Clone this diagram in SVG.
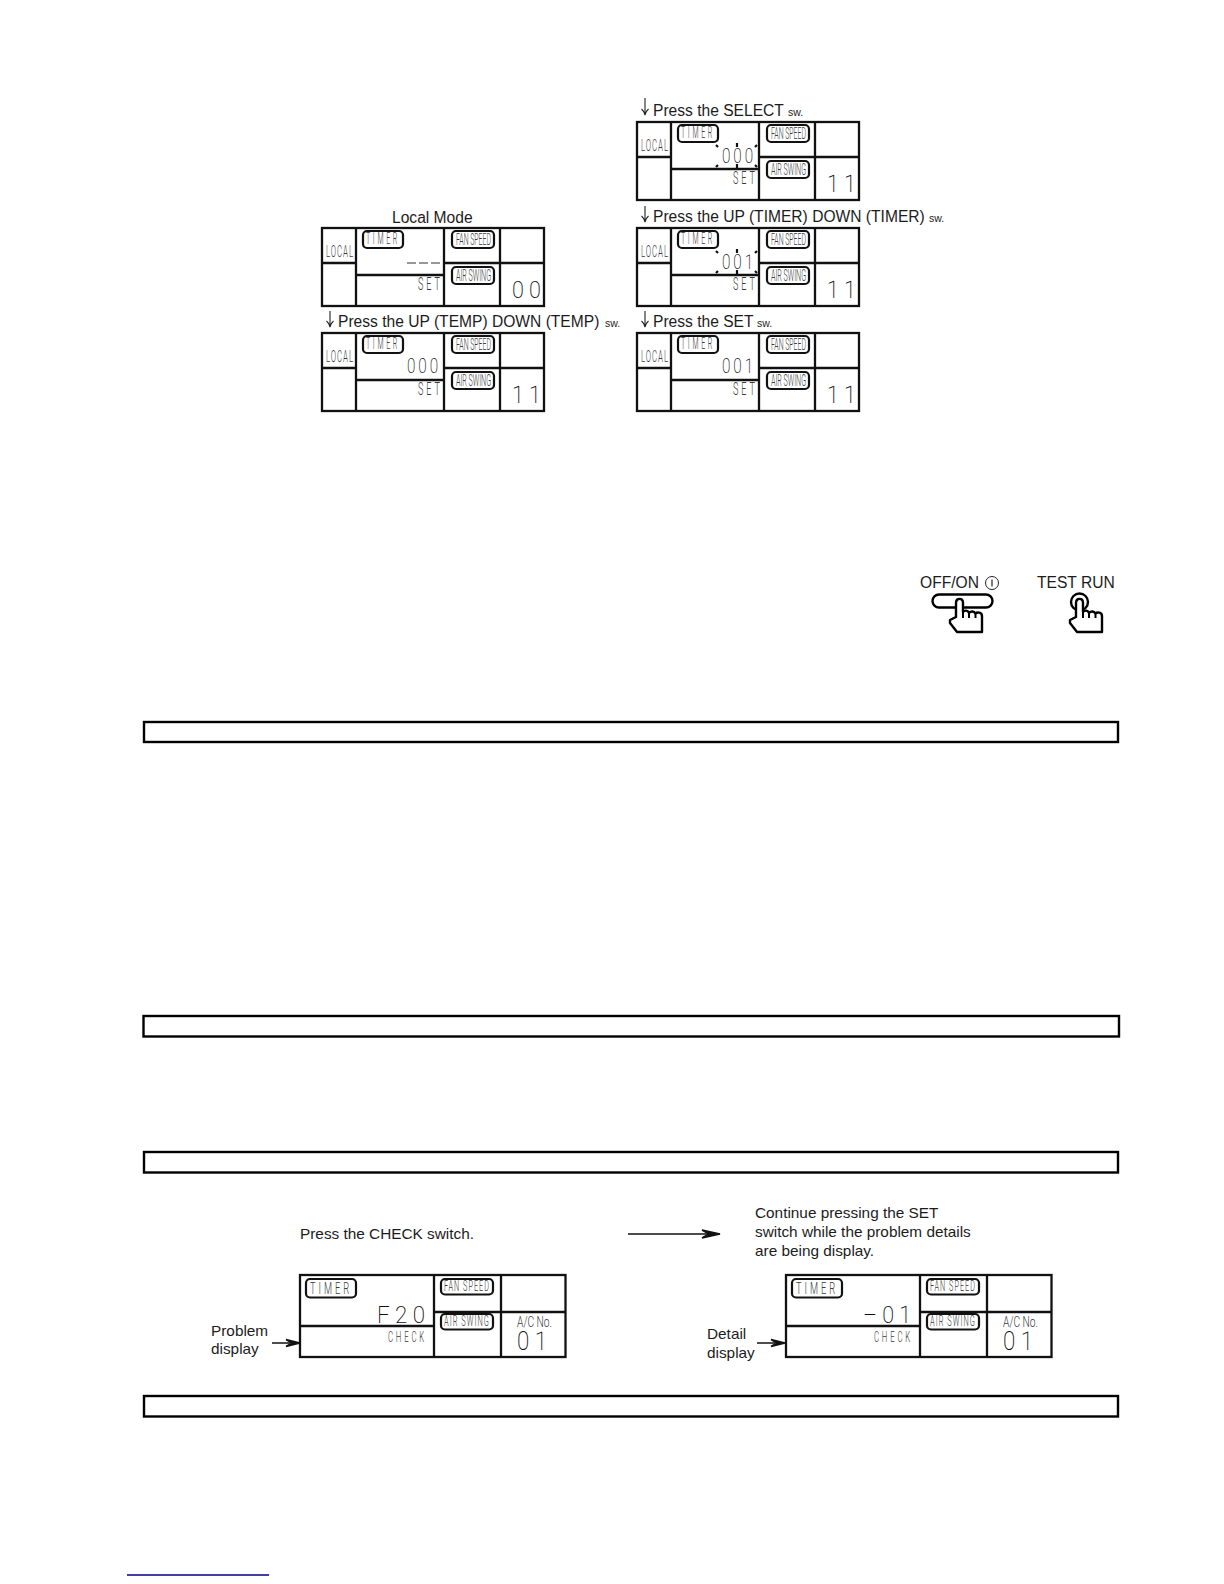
<svg xmlns="http://www.w3.org/2000/svg" width="1224" height="1584" viewBox="0 0 1224 1584">
<style>
text{font-family:"Liberation Sans",Arial,sans-serif;fill:#1c1c1c}
.cap{font-size:15.6px}
.cap2{font-size:15.35px}
.sw{font-size:10.5px}
.lbl{font-family:"Roboto","Liberation Sans",sans-serif;font-weight:300;font-size:16px;fill:#3a3a3a}
.s1{letter-spacing:2px}
.s2{letter-spacing:6px}
.s3{letter-spacing:5px}
.big{font-size:18px}
.sm{font-size:14px}
.dig{font-family:"Roboto",sans-serif;font-weight:200;fill:#111}
.d3{letter-spacing:4px}
.f{fill:none;stroke:#111;stroke-width:2.3}
.b{fill:none;stroke:#111;stroke-width:2.2}
.t{fill:none;stroke:#111;stroke-width:2.2}
.ln{fill:none;stroke:#000;stroke-width:2.4}
.ar{fill:none;stroke:#222;stroke-width:1.1}
.lg{fill:#111;stroke:#111;stroke-width:1.5}
.hand{fill:#fff;stroke:#000;stroke-width:2.4;stroke-linejoin:round}
</style>
<defs>
<g id="frame">
<rect class="f" x="0" y="0" width="222" height="78"/>
<path class="f" d="M34,0V78M122,0V78M178,0V78M0,35H34M34,47H122M122,35H222"/>
<rect class="b" x="41" y="3" width="40" height="17" rx="4"/>
<rect class="b" x="130" y="3" width="42" height="17" rx="4"/>
<rect class="b" x="130" y="39" width="42" height="17" rx="4"/>
</g>
<g id="frame2">
<rect class="f" x="0" y="0" width="265.500" height="82"/>
<path class="f" d="M134,0V82M201,0V82M0,51H134M134,37H265"/>
<rect class="b" x="6" y="4" width="50" height="18.500" rx="4"/>
<rect class="b" x="141" y="4" width="52" height="15.500" rx="4"/>
<rect class="b" x="141" y="39" width="52" height="15.500" rx="4"/>
</g>
<g id="ticks">
<path class="t" d="M79,23l2,2M100,21v4M120,23l-2,2M79,45l2,-2M100,42v4M120,45l-2,-2"/>
</g>
<g id="hand">
<path class="hand" d="M0,14V0C0,-5.500 7,-5.500 7,0V9C9,7 12,7 13,10C15,8 18,8 19.500,10.500C21,9 26,9 26,13V29H1L-6,20V17L0,14Z"/>
<path fill="none" stroke="#000" stroke-width="2" d="M7,9V15M13,10V15M19.500,10.500V15"/>
</g>
</defs>

<g id="node-local">
<text class="cap" x="392" y="223">Local Mode</text>
<g transform="translate(322,228)">
<use href="#frame"/>
<text class="lbl s1" x="4" y="29" textLength="28" lengthAdjust="spacingAndGlyphs">LOCAL</text>
<text class="lbl s2" x="44" y="16" textLength="34" lengthAdjust="spacingAndGlyphs">TIMER</text>
<text class="lbl" x="134" y="17" textLength="35" lengthAdjust="spacingAndGlyphs">FAN SPEED</text>
<text class="lbl" x="134" y="53" textLength="35" lengthAdjust="spacingAndGlyphs">AIR SWING</text>
<path d="M85,35h9M97,35h9M109,35h9" stroke="#777" stroke-width="1.5" fill="none"/>
<text class="lbl big s2" x="96" y="62" textLength="25" lengthAdjust="spacingAndGlyphs">SET</text>
<text class="dig" x="190" y="70" font-size="24" textLength="29" lengthAdjust="spacingAndGlyphs">0 0</text>
</g>
</g>

<g id="node-temp">
<text class="cap" x="338" y="327">Press the UP (TEMP) DOWN (TEMP)</text>
<text class="sw" x="605" y="327">sw.</text>
<g transform="translate(322,333)">
<use href="#frame"/>
<text class="lbl s1" x="4" y="29" textLength="28" lengthAdjust="spacingAndGlyphs">LOCAL</text>
<text class="lbl s2" x="44" y="16" textLength="34" lengthAdjust="spacingAndGlyphs">TIMER</text>
<text class="lbl" x="134" y="17" textLength="35" lengthAdjust="spacingAndGlyphs">FAN SPEED</text>
<text class="lbl" x="134" y="53" textLength="35" lengthAdjust="spacingAndGlyphs">AIR SWING</text>
<text class="dig d3" x="85" y="40" font-size="21" textLength="34" lengthAdjust="spacingAndGlyphs">000</text>
<text class="lbl big s2" x="96" y="62" textLength="25" lengthAdjust="spacingAndGlyphs">SET</text>
<text class="dig" x="190" y="70" font-size="24" textLength="29" lengthAdjust="spacingAndGlyphs">1 1</text>
</g>
</g>

<g id="node-select">
<text class="cap" x="653" y="116">Press the SELECT</text>
<text class="sw" x="788" y="116">sw.</text>
<g transform="translate(637,122)">
<use href="#frame"/>
<use href="#ticks"/>
<text class="lbl s1" x="4" y="29" textLength="28" lengthAdjust="spacingAndGlyphs">LOCAL</text>
<text class="lbl s2" x="44" y="16" textLength="34" lengthAdjust="spacingAndGlyphs">TIMER</text>
<text class="lbl" x="134" y="17" textLength="35" lengthAdjust="spacingAndGlyphs">FAN SPEED</text>
<text class="lbl" x="134" y="53" textLength="35" lengthAdjust="spacingAndGlyphs">AIR SWING</text>
<text class="dig d3" x="85" y="41" font-size="21" textLength="34" lengthAdjust="spacingAndGlyphs">000</text>
<text class="lbl big s2" x="96" y="62" textLength="25" lengthAdjust="spacingAndGlyphs">SET</text>
<text class="dig" x="190" y="70" font-size="24" textLength="29" lengthAdjust="spacingAndGlyphs">1 1</text>
</g>
</g>

<g id="node-timer">
<text class="cap" x="653" y="222">Press the UP (TIMER) DOWN (TIMER)</text>
<text class="sw" x="929" y="222">sw.</text>
<g transform="translate(637,228)">
<use href="#frame"/>
<use href="#ticks"/>
<text class="lbl s1" x="4" y="29" textLength="28" lengthAdjust="spacingAndGlyphs">LOCAL</text>
<text class="lbl s2" x="44" y="16" textLength="34" lengthAdjust="spacingAndGlyphs">TIMER</text>
<text class="lbl" x="134" y="17" textLength="35" lengthAdjust="spacingAndGlyphs">FAN SPEED</text>
<text class="lbl" x="134" y="53" textLength="35" lengthAdjust="spacingAndGlyphs">AIR SWING</text>
<text class="dig d3" x="85" y="41" font-size="21" textLength="34" lengthAdjust="spacingAndGlyphs">001</text>
<text class="lbl big s2" x="96" y="62" textLength="25" lengthAdjust="spacingAndGlyphs">SET</text>
<text class="dig" x="190" y="70" font-size="24" textLength="29" lengthAdjust="spacingAndGlyphs">1 1</text>
</g>
</g>

<g id="node-set">
<text class="cap" x="653" y="327">Press the SET</text>
<text class="sw" x="757" y="327">sw.</text>
<g transform="translate(637,333)">
<use href="#frame"/>
<text class="lbl s1" x="4" y="29" textLength="28" lengthAdjust="spacingAndGlyphs">LOCAL</text>
<text class="lbl s2" x="44" y="16" textLength="34" lengthAdjust="spacingAndGlyphs">TIMER</text>
<text class="lbl" x="134" y="17" textLength="35" lengthAdjust="spacingAndGlyphs">FAN SPEED</text>
<text class="lbl" x="134" y="53" textLength="35" lengthAdjust="spacingAndGlyphs">AIR SWING</text>
<text class="dig d3" x="85" y="40" font-size="21" textLength="34" lengthAdjust="spacingAndGlyphs">001</text>
<text class="lbl big s2" x="96" y="62" textLength="25" lengthAdjust="spacingAndGlyphs">SET</text>
<text class="dig" x="190" y="70" font-size="24" textLength="29" lengthAdjust="spacingAndGlyphs">1 1</text>
</g>
</g>

<g id="node-offon">
<text class="cap" x="920" y="588">OFF/ON</text>
<circle cx="992" cy="583" r="6.500" fill="none" stroke="#222" stroke-width="1"/>
<path d="M992,579.500v7" stroke="#222" stroke-width="1.2"/>
<rect x="932.500" y="594.500" width="60" height="13" rx="6.500" fill="none" stroke="#000" stroke-width="2.400"/>
<use href="#hand" transform="translate(956,603)"/>
</g>
<g id="node-testrun">
<text class="cap" x="1037" y="588">TEST RUN</text>
<circle cx="1079.500" cy="602" r="8.500" fill="none" stroke="#000" stroke-width="2.400"/>
<use href="#hand" transform="translate(1076,603)"/>
</g>

<g id="bar-1"><rect class="ln" x="144" y="722" width="974" height="20"/></g>
<g id="bar-2"><rect class="ln" x="143.500" y="1016" width="975.500" height="20.500"/></g>
<g id="bar-3"><rect class="ln" x="144" y="1152" width="974" height="20.500"/></g>
<g id="bar-4"><rect class="ln" x="144" y="1396" width="974" height="20.500"/></g>

<g id="node-check">
<text class="cap2" x="300" y="1239">Press the CHECK switch.</text>
<text class="cap2" x="211" y="1336">Problem</text>
<text class="cap2" x="211" y="1354">display</text>
<g transform="translate(300,1275)">
<use href="#frame2"/>
<text class="lbl s3" x="10" y="19" textLength="42" lengthAdjust="spacingAndGlyphs">TIMER</text>
<text class="lbl sm s1" x="144" y="16" textLength="46" lengthAdjust="spacingAndGlyphs">FAN SPEED</text>
<text class="lbl sm s1" x="144" y="51" textLength="46" lengthAdjust="spacingAndGlyphs">AIR SWING</text>
<text class="dig" x="77" y="48" font-size="23" textLength="48" lengthAdjust="spacingAndGlyphs">F 2 0</text>
<text class="lbl sm s3" x="88" y="67" textLength="39" lengthAdjust="spacingAndGlyphs">CHECK</text>
<text class="lbl sm" x="217" y="52" textLength="35" lengthAdjust="spacingAndGlyphs">A/C No.</text>
<text class="dig" x="217" y="75" font-size="26" textLength="30" lengthAdjust="spacingAndGlyphs">0 1</text>
</g>
</g>

<g id="node-detail">
<text class="cap2" x="755" y="1218">Continue pressing the SET</text>
<text class="cap2" x="755" y="1237">switch while the problem details</text>
<text class="cap2" x="755" y="1256">are being display.</text>
<text class="cap2" x="707" y="1339">Detail</text>
<text class="cap2" x="707" y="1358">display</text>
<g transform="translate(786,1275)">
<use href="#frame2"/>
<text class="lbl s3" x="10" y="19" textLength="42" lengthAdjust="spacingAndGlyphs">TIMER</text>
<text class="lbl sm s1" x="144" y="16" textLength="46" lengthAdjust="spacingAndGlyphs">FAN SPEED</text>
<text class="lbl sm s1" x="144" y="51" textLength="46" lengthAdjust="spacingAndGlyphs">AIR SWING</text>
<text class="dig" x="77" y="48" font-size="23" textLength="48" lengthAdjust="spacingAndGlyphs">– 0 1</text>
<text class="lbl sm s3" x="88" y="67" textLength="39" lengthAdjust="spacingAndGlyphs">CHECK</text>
<text class="lbl sm" x="217" y="52" textLength="35" lengthAdjust="spacingAndGlyphs">A/C No.</text>
<text class="dig" x="217" y="75" font-size="26" textLength="30" lengthAdjust="spacingAndGlyphs">0 1</text>
</g>
</g>

<g id="connectors">
<path class="ar" d="M330,311V327M326.500,321Q329,323 330,327Q331,323 333.500,321"/>
<path class="ar" d="M645,98V115M641.500,109Q644,111 645,115Q646,111 648.500,109"/>
<path class="ar" d="M645,206V222M641.500,216Q644,218 645,222Q646,218 648.500,216"/>
<path class="ar" d="M645,311V327M641.500,321Q644,323 645,327Q646,323 648.500,321"/>
<path class="lg" d="M628,1234H708"/><path class="lg" stroke-width="0.500" d="M720,1234L702,1230L709,1234L702,1238Z"/>
<path class="lg" d="M272,1343H290"/><path class="lg" stroke-width="0.500" d="M300,1343L286,1339.500L292,1343L286,1346.500Z"/>
<path class="lg" d="M757,1343H775"/><path class="lg" stroke-width="0.500" d="M785,1343L771,1339.500L777,1343L771,1346.500Z"/>
</g>
<g id="footer-rule"><path d="M127,1575H269" stroke="#000080" stroke-width="1.600" fill="none"/></g>
</svg>
